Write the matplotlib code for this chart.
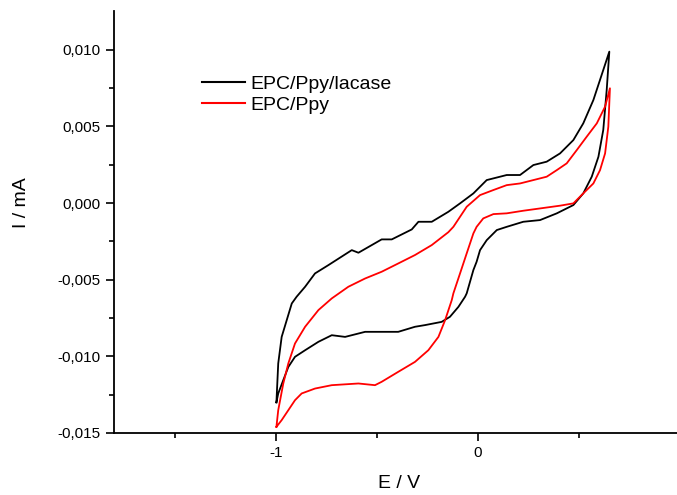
import matplotlib
matplotlib.use("Agg")
import matplotlib.pyplot as plt
from matplotlib.ticker import FixedLocator

plt.rcParams['font.family'] = ['Liberation Sans', 'DejaVu Sans']

# EPC/Ppy/lacase (black): anodic branch then cathodic return
lac_E = [-0.998, -0.989, -0.972, -0.947, -0.922, -0.898, -0.856, -0.807, -0.741, -0.625,
         -0.592, -0.477, -0.427, -0.328, -0.295, -0.229, -0.147, -0.089, -0.023, 0.043,
         0.142, 0.208, 0.274, 0.340, 0.406, 0.472, 0.521, 0.571, 0.620, 0.650,
         0.637, 0.620, 0.596, 0.563, 0.521, 0.472, 0.390, 0.307, 0.224, 0.142,
         0.093, 0.043, 0.010, -0.007, -0.023, -0.056, -0.064, -0.097, -0.139, -0.180,
         -0.262, -0.312, -0.395, -0.494, -0.559, -0.658, -0.724, -0.790, -0.856, -0.906,
         -0.939, -0.964, -0.989, -0.998]
lac_I = [-0.0130, -0.01046, -0.00873, -0.00764, -0.00655, -0.00611, -0.00546, -0.00459, -0.00405, -0.00307,
         -0.00324, -0.00237, -0.00237, -0.00172, -0.00122, -0.00122, -0.00057, -0.00002, 0.00063, 0.0015,
         0.00183, 0.00183, 0.00248, 0.0027, 0.00324, 0.00411, 0.0052, 0.00672, 0.00868, 0.00988,
         0.00738, 0.00477, 0.00302, 0.00172, 0.00063, -0.00013, -0.00067, -0.00111, -0.00122, -0.00155,
         -0.00176, -0.00242, -0.00307, -0.00383, -0.00437, -0.00589, -0.00611, -0.00677, -0.00742, -0.00775,
         -0.00796, -0.00807, -0.0084, -0.0084, -0.0084, -0.00873, -0.00862, -0.00905, -0.0096, -0.01003,
         -0.01069, -0.01155, -0.01242, -0.0130]

# EPC/Ppy (red)
ppy_E = [-0.998, -0.989, -0.964, -0.939, -0.906, -0.856, -0.790, -0.724, -0.642, -0.559,
         -0.477, -0.395, -0.312, -0.229, -0.147, -0.122, -0.056, 0.010, 0.076, 0.142,
         0.208, 0.274, 0.340, 0.390, 0.439, 0.489, 0.538, 0.588, 0.629, 0.653,
         0.645, 0.629, 0.604, 0.571, 0.521, 0.472, 0.406, 0.307, 0.224, 0.142,
         0.076, 0.026, -0.007, -0.023, -0.056, -0.089, -0.122, -0.130, -0.163, -0.196,
         -0.246, -0.312, -0.395, -0.477, -0.510, -0.592, -0.724, -0.807, -0.873, -0.906,
         -0.939, -0.972, -0.998]
ppy_I = [-0.0146, -0.01351, -0.01177, -0.01046, -0.00916, -0.00807, -0.00698, -0.00622, -0.00546, -0.00492,
         -0.00448, -0.00394, -0.00339, -0.00274, -0.00190, -0.00155, -0.00024, 0.00052, 0.00085, 0.00117,
         0.00128, 0.0015, 0.00172, 0.00215, 0.00259, 0.00346, 0.00433, 0.0052, 0.00629, 0.00749,
         0.00498, 0.00324, 0.00215, 0.00128, 0.00063, -0.00002, -0.00017, -0.00035, -0.0005, -0.00067,
         -0.00072, -0.001, -0.00155, -0.00198, -0.00328, -0.00459, -0.00589, -0.00633, -0.00764, -0.00873,
         -0.0096, -0.01036, -0.01101, -0.01166, -0.01188, -0.01177, -0.01188, -0.0121, -0.01242, -0.01286,
         -0.01351, -0.01416, -0.0146]

series_labels = ['EPC/Ppy/lacase', 'EPC/Ppy']
x_major = [-1, 0]
x_major_labels = ['-1', '0']
x_minor = [-1.5, -0.5, 0.5]
y_major = [0.010, 0.005, 0.000, -0.005, -0.010, -0.015]
y_major_labels = ['0,010', '0,005', '0,000', '-0,005', '-0,010', '-0,015']
y_minor = [0.0075, 0.0025, -0.0025, -0.0075, -0.0125]

W, H = 677, 495
fig = plt.figure(figsize=(W / 100, H / 100), dpi=100)
ax = fig.add_axes([114 / W, 62 / H, 1 - 114 / W, (433 - 11) / H])

ax.plot(lac_E, lac_I, color='black', lw=1.3, label=series_labels[0])
ax.plot(ppy_E, ppy_I, color='#ff0000', lw=1.3, label=series_labels[1])

ax.set_xlim(-1.802, 0.985)
ax.set_ylim(-0.015, 0.01253)

for s in ['top', 'right']:
    ax.spines[s].set_visible(False)
for s in ['left', 'bottom']:
    ax.spines[s].set_linewidth(1.3)

ax.xaxis.set_major_locator(FixedLocator(x_major))
ax.set_xticklabels(x_major_labels)
ax.xaxis.set_minor_locator(FixedLocator(x_minor))
ax.yaxis.set_major_locator(FixedLocator(y_major))
ax.set_yticklabels(y_major_labels)
ax.yaxis.set_minor_locator(FixedLocator(y_minor))

ax.tick_params(which='major', direction='out', length=5.5, width=1.2, labelsize=11, pad=4)
ax.tick_params(which='minor', direction='out', length=3.5, width=1.2)

fig.text(399 / W, 1 - 483 / H, 'E / V', fontsize=14, ha='center', va='center')
fig.text(21 / W, 1 - 203 / H, 'I / mA', fontsize=14, ha='center', va='center', rotation=90)

leg = ax.legend(loc='upper left', bbox_to_anchor=(202 / W, 1 - 75 / H),
                bbox_transform=fig.transFigure, frameon=False, fontsize=14,
                handlelength=2.2, handletextpad=0.3, labelspacing=0.2,
                borderpad=0, borderaxespad=0)
for line in leg.get_lines():
    line.set_linewidth(1.5)

fig.savefig('out.png', dpi=100)
